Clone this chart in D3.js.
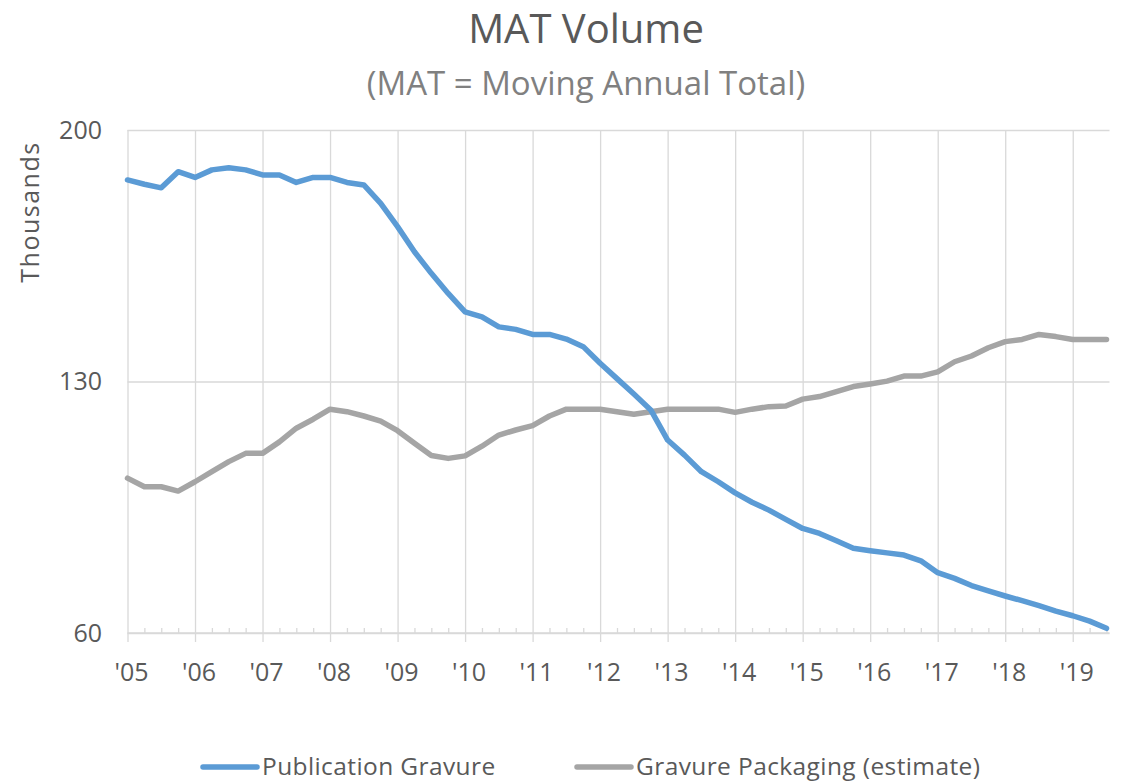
<!DOCTYPE html>
<html>
<head>
<meta charset="utf-8">
<script src="https://cdn.jsdelivr.net/npm/d3@7"></script>
<style>
  body { margin: 0; background: #fff; }
  svg { display: block; font-family: "Open Sans", sans-serif; }
</style>
</head>
<body>
<svg id="grafico" width="1122" height="782"></svg>
<script>
// quarterly MAT values (thousands), 2005 Q1 .. 2019 Q3
const publicationGravure = [
  186.1, 184.9, 183.9, 188.4, 186.8, 188.9, 189.5, 188.9, 187.5, 187.5,
  185.4, 186.8, 186.8, 185.4, 184.7, 179.6, 173.1, 166.1, 160.1, 154.5,
  149.4, 148.0, 145.2, 144.5, 143.1, 143.1, 141.8, 139.7, 135.1, 130.8,
  126.5, 122.1, 113.7, 109.5, 104.9, 102.1, 99.0, 96.4, 94.2, 91.6,
  89.1, 87.7, 85.7, 83.6, 82.9, 82.3, 81.7, 80.1, 76.8, 75.2,
  73.2, 71.7, 70.3, 69.0, 67.6, 66.1, 64.8, 63.3, 61.3
];
const gravurePackaging = [
  103.1, 100.7, 100.7, 99.5, 102.1, 104.9, 107.7, 110.0, 110.0, 113.2,
  117.0, 119.5, 122.3, 121.6, 120.4, 119.0, 116.3, 112.8, 109.4, 108.6,
  109.3, 112.0, 115.1, 116.5, 117.7, 120.4, 122.3, 122.3, 122.3, 121.6,
  120.9, 121.6, 122.3, 122.3, 122.3, 122.3, 121.4, 122.3, 123.0, 123.2,
  125.1, 125.8, 127.2, 128.6, 129.3, 130.1, 131.5, 131.5, 132.7, 135.5,
  137.1, 139.4, 141.1, 141.7, 143.1, 142.5, 141.7, 141.7, 141.7
];
const yearLabels = ["'05","'06","'07","'08","'09","'10","'11","'12","'13","'14","'15","'16","'17","'18","'19"];
const yTicks = [60, 130, 200];
const seriesNames = ["Publication Gravure", "Gravure Packaging (estimate)"];
const seriesColors = ["#5B9BD5", "#A5A5A5"];

const svg = d3.select("#grafico");
const margem = { esq: 127.5, dir: 1106.5, topo: 130, base: 633 };
const textColor = "#595959", gridColor = "#D9D9D9";

const x = d3.scaleLinear().domain([0, publicationGravure.length - 1]).range([margem.esq, margem.dir]);
const y = d3.scaleLinear().domain([60, 200]).range([margem.base, margem.topo]);

const allIdx = d3.range(publicationGravure.length);
const majorIdx = yearLabels.map((d, i) => i * 4);
const minorIdx = allIdx.filter(i => i % 4 !== 0);

// horizontal gridlines
svg.append("g")
  .attr("transform", `translate(${margem.esq},0)`)
  .call(d3.axisLeft(y).tickValues(yTicks).tickSize(-(margem.dir - margem.esq + 3)).tickFormat(""))
  .call(g => g.select(".domain").remove())
  .selectAll("line").attr("stroke", gridColor).attr("stroke-width", 1.3);

// vertical gridlines + major ticks below axis
svg.append("g")
  .attr("transform", `translate(0,${margem.base + 9})`)
  .call(d3.axisBottom(x).tickValues(majorIdx).tickSize(-(margem.base + 9 - margem.topo)).tickFormat(""))
  .call(g => g.select(".domain").remove())
  .selectAll("line").attr("stroke", gridColor).attr("stroke-width", 1.3);

// minor ticks (inside)
svg.append("g")
  .attr("transform", `translate(0,${margem.base})`)
  .call(d3.axisBottom(x).tickValues(minorIdx).tickSize(-5).tickFormat(""))
  .call(g => g.select(".domain").remove())
  .selectAll("line").attr("stroke", gridColor).attr("stroke-width", 1.3);

// x axis line
svg.append("line")
  .attr("x1", margem.esq).attr("x2", margem.dir + 3)
  .attr("y1", margem.base).attr("y2", margem.base)
  .attr("stroke", gridColor).attr("stroke-width", 1.3);

// x labels
svg.append("g").selectAll("text")
  .data(yearLabels)
  .join("text")
  .attr("x", (d, i) => x(i * 4) + 4)
  .attr("y", 681)
  .attr("text-anchor", "middle")
  .attr("fill", textColor)
  .attr("font-size", 25)
  .text(d => d);

// y labels
svg.append("g").selectAll("text")
  .data(yTicks)
  .join("text")
  .attr("x", 102)
  .attr("y", d => y(d))
  .attr("dy", "0.35em")
  .attr("text-anchor", "end")
  .attr("fill", textColor)
  .attr("font-size", 25)
  .text(d => d);

// y axis title
svg.append("text")
  .attr("transform", "translate(39,212) rotate(-90)")
  .attr("text-anchor", "middle")
  .attr("fill", textColor)
  .attr("font-size", 25)
  .attr("letter-spacing", 1.5)
  .text("Thousands");

// titles
svg.append("text")
  .attr("x", 586).attr("y", 43)
  .attr("text-anchor", "middle")
  .attr("fill", textColor)
  .attr("font-size", 40)
  .text("MAT Volume");

svg.append("text")
  .attr("x", 586).attr("y", 95)
  .attr("text-anchor", "middle")
  .attr("fill", "#808080")
  .attr("font-size", 33)
  .text("(MAT = Moving Annual Total)");

// lines
const linha = d3.line().x((d, i) => x(i)).y(d => y(d));
[gravurePackaging, publicationGravure].forEach((serie, k) => {
  svg.append("path")
    .datum(serie)
    .attr("fill", "none")
    .attr("stroke", seriesColors[1 - k])
    .attr("stroke-width", 5.5)
    .attr("stroke-linejoin", "round")
    .attr("stroke-linecap", "round")
    .attr("d", linha);
});

// legend
const legendItems = [
  { x1: 203, x2: 257, tx: 262 },
  { x1: 577, x2: 631, tx: 636 }
];
const legenda = svg.append("g");
legendItems.forEach((it, i) => {
  legenda.append("line")
    .attr("x1", it.x1).attr("x2", it.x2)
    .attr("y1", 767).attr("y2", 767)
    .attr("stroke", seriesColors[i])
    .attr("stroke-width", 5.5)
    .attr("stroke-linecap", "round");
  legenda.append("text")
    .attr("x", it.tx).attr("y", 775)
    .attr("fill", textColor)
    .attr("font-size", 24.5)
    .attr("letter-spacing", 0.4)
    .text(seriesNames[i]);
});
</script>
</body>
</html>
